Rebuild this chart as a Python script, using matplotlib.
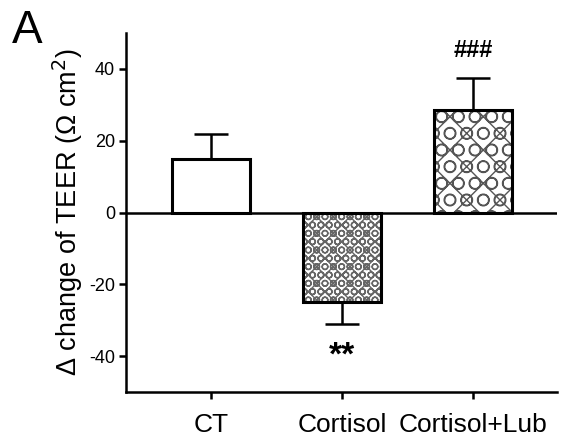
import matplotlib
matplotlib.use("Agg")
import matplotlib.pyplot as plt

categories = ["CT", "Cortisol", "Cortisol+Lub"]
means = [15, -25, 28.5]
err_low = [0, 6, 0]
err_high = [7, 0, 9]
annotations = ["", "**", "###"]
annot_y = [0, -40, 45]
yticks = [-40, -20, 0, 20, 40]

plt.rcParams['font.family'] = ['Liberation Sans', 'DejaVu Sans']
plt.rcParams['hatch.linewidth'] = 1.0

fig = plt.figure(figsize=(5.62, 4.45), dpi=100)
ax = fig.add_axes([126/562, 1-392/445, (557-126)/562, (392-33)/445])

x = list(range(len(categories)))
width = 0.6
hatches = [None, "OOxx", "xO"]
hcolors = ["white", "#666666", "#555555"]
for i in x:
    if hatches[i]:
        ax.bar(i, means[i], width=width, color="white", edgecolor=hcolors[i],
               hatch=hatches[i], linewidth=0, zorder=2)
    ax.bar(i, means[i], width=width, fill=(hatches[i] is None), facecolor="white",
           edgecolor="black", linewidth=2.2, zorder=3)

ax.errorbar(x, means, yerr=[err_low, err_high], fmt="none", ecolor="black",
            elinewidth=1.8, capsize=12, capthick=1.8, zorder=1)

ax.axhline(0, color="black", linewidth=1.8, zorder=4)

for i in x:
    if annotations[i]:
        ax.text(i, annot_y[i], annotations[i], ha="center", va="center",
                fontsize=24 if annotations[i] == "**" else 17, fontweight="bold")

ax.set_xlim(-0.65, 2.64)
ax.set_ylim(-50, 50)
ax.set_yticks(yticks)
ax.set_yticklabels([str(t) for t in yticks], fontsize=13)
ax.set_xticks(x)
ax.set_xticklabels(categories, fontsize=19)
ax.spines['top'].set_visible(False)
ax.spines['right'].set_visible(False)
ax.spines['left'].set_linewidth(1.8)
ax.spines['bottom'].set_linewidth(1.8)
ax.tick_params(axis='both', length=5, width=1.8)
ax.tick_params(axis='x', pad=10)
ax.tick_params(axis='y', pad=3)
ax.set_ylabel("Δ change of TEER (Ω cm$^2$)", fontsize=19.5, labelpad=3)

fig.text(12/562, 1-43/445, "A", fontsize=33, ha="left", va="baseline")

fig.savefig("out.png", dpi=100)
